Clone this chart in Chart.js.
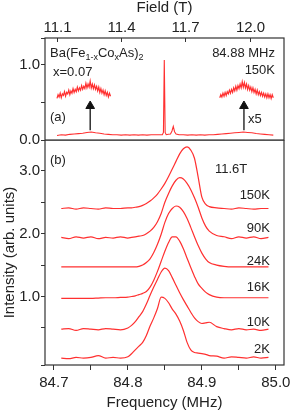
<!DOCTYPE html>
<html>
<head>
<meta charset="utf-8">
<script src="https://cdn.jsdelivr.net/npm/chart.js@4.4.1/dist/chart.umd.min.js"></script>
<style>
    body { margin: 0; background: #fff; width: 291px; height: 411px; overflow: hidden; position: relative;
           font-family: "Liberation Sans", Arial, sans-serif; color: #222; }
    canvas { position: absolute; left: 0; }
    #chartA { top: 0; }
    #chartB { top: 140px; }
    .lbl { position: absolute; font-size: 13px; line-height: 1; white-space: nowrap; }
    .lbl sub { font-size: 9px; vertical-align: -3px; line-height: 0; }
    .r { text-align: right; }
</style>
</head>
<body>
<canvas id="chartA" width="291" height="146" style="width:291px;height:146px"></canvas>
<canvas id="chartB" width="291" height="271" style="width:291px;height:271px"></canvas>

<div class="lbl" style="left:50px;top:46px">Ba(Fe<sub>1-x</sub>Co<sub>x</sub>As)<sub>2</sub></div>
<div class="lbl" style="left:53px;top:65px">x=0.07</div>
<div class="lbl r" style="right:16px;top:46px">84.88 MHz</div>
<div class="lbl r" style="right:16px;top:63px">150K</div>
<div class="lbl" style="left:50px;top:110px">(a)</div>
<div class="lbl" style="left:248px;top:112px">x5</div>
<div class="lbl" style="left:50px;top:153px">(b)</div>
<div class="lbl" style="left:215px;top:162px">11.6T</div>
<div class="lbl r" style="right:21px;top:188px">150K</div>
<div class="lbl r" style="right:21px;top:221px">90K</div>
<div class="lbl r" style="right:21px;top:254px">24K</div>
<div class="lbl r" style="right:21px;top:280px">16K</div>
<div class="lbl r" style="right:21px;top:315px">10K</div>
<div class="lbl r" style="right:21px;top:342px">2K</div>

<script>
// ---- panel (a): field sweep at 84.88 MHz, 150K ----
const fieldT = [11.10, 11.12, 11.14, 11.16, 11.18, 11.20, 11.22, 11.24, 11.26, 11.28, 11.30, 11.32, 11.34,
    11.36, 11.38, 11.40, 11.42, 11.44, 11.46, 11.48, 11.50, 11.52, 11.54, 11.56, 11.58, 11.592, 11.597,
    11.601, 11.605, 11.610, 11.62, 11.630, 11.637, 11.643, 11.649, 11.656, 11.67, 11.69, 11.71, 11.73,
    11.75, 11.77, 11.79, 11.81, 11.83, 11.85, 11.87, 11.89, 11.91, 11.93, 11.95, 11.97, 11.99, 12.01,
    12.03, 12.05, 12.07, 12.09, 12.11];
const sweepSignal = [0.06, 0.07, 0.065, 0.075, 0.08, 0.085, 0.09, 0.10, 0.105, 0.095, 0.09, 0.08, 0.075,
    0.07, 0.07, 0.065, 0.07, 0.065, 0.07, 0.065, 0.07, 0.065, 0.07, 0.07, 0.07, 0.07, 0.10,
    1.06, 0.10, 0.07, 0.075, 0.08, 0.12, 0.18, 0.11, 0.08, 0.07, 0.07, 0.065, 0.07,
    0.065, 0.07, 0.065, 0.07, 0.07, 0.075, 0.08, 0.085, 0.09, 0.095, 0.10, 0.105, 0.10, 0.095,
    0.085, 0.08, 0.075, 0.07, 0.065];

// x5 blow-ups of the two satellite humps
const leftZoomField = [11.100, 11.105, 11.110, 11.115, 11.120, 11.125, 11.130, 11.135, 11.140, 11.145,
    11.150, 11.155, 11.160, 11.165, 11.170, 11.175, 11.180, 11.185, 11.190, 11.195, 11.200, 11.205,
    11.210, 11.215, 11.220, 11.225, 11.230, 11.235, 11.240, 11.245, 11.250, 11.255, 11.260, 11.265,
    11.270, 11.275, 11.280, 11.285, 11.290, 11.295, 11.300, 11.305, 11.310, 11.315, 11.320, 11.325,
    11.330, 11.335, 11.340, 11.345, 11.350];
const leftZoomSignal = [0.55, 0.60, 0.57, 0.62, 0.56, 0.61, 0.59, 0.64, 0.58, 0.63,
    0.61, 0.66, 0.60, 0.65, 0.62, 0.68, 0.63, 0.67, 0.64, 0.70, 0.65, 0.69,
    0.66, 0.72, 0.67, 0.71, 0.68, 0.75, 0.69, 0.74, 0.70, 0.78, 0.69, 0.74,
    0.68, 0.73, 0.67, 0.71, 0.65, 0.70, 0.63, 0.68, 0.62, 0.66, 0.60, 0.65,
    0.59, 0.63, 0.57, 0.62, 0.58];
const rightZoomField = [11.860, 11.865, 11.870, 11.875, 11.880, 11.885, 11.890, 11.895, 11.900, 11.905,
    11.910, 11.915, 11.920, 11.925, 11.930, 11.935, 11.940, 11.945, 11.950, 11.955, 11.960, 11.965,
    11.970, 11.975, 11.980, 11.985, 11.990, 11.995, 12.000, 12.005, 12.010, 12.015, 12.020, 12.025,
    12.030, 12.035, 12.040, 12.045, 12.050, 12.055, 12.060, 12.065, 12.070, 12.075, 12.080, 12.085,
    12.090, 12.095, 12.100, 12.105, 12.110];
const rightZoomSignal = [0.56, 0.60, 0.57, 0.62, 0.58, 0.63, 0.59, 0.64, 0.61, 0.66,
    0.62, 0.67, 0.63, 0.69, 0.65, 0.71, 0.66, 0.72, 0.68, 0.74, 0.69, 0.77,
    0.70, 0.76, 0.69, 0.74, 0.67, 0.72, 0.66, 0.70, 0.64, 0.69, 0.63, 0.67,
    0.61, 0.66, 0.60, 0.64, 0.59, 0.63, 0.58, 0.62, 0.57, 0.61, 0.56, 0.61,
    0.56, 0.60, 0.55, 0.60, 0.56];

const arrowFieldT = [11.255, 11.973];
const arrowFrom = 0.13;
const arrowTo = 0.45;

// ---- panel (b): frequency spectra at 11.6T ----
const freqMHz = [84.71, 84.72, 84.73, 84.74, 84.75, 84.76, 84.77, 84.78, 84.79, 84.80, 84.805, 84.81, 84.815,
    84.82, 84.825, 84.83, 84.835, 84.84, 84.845, 84.85, 84.855, 84.86, 84.865, 84.87, 84.875, 84.88,
    84.885, 84.89, 84.895, 84.90, 84.905, 84.91, 84.92, 84.93, 84.94, 84.95, 84.96, 84.97, 84.98, 84.99];
const temps = ['2K', '10K', '16K', '24K', '90K', '150K'];
const spec2K = [0.02, 0.01, 0.03, 0.02, 0.03, 0.06, 0.02, 0.03, 0.02, 0.04, 0.09, 0.15, 0.21,
    0.27, 0.38, 0.53, 0.66, 0.81, 0.99, 0.97, 0.90, 0.80, 0.72, 0.61, 0.46, 0.27,
    0.15, 0.11, 0.10, 0.09, 0.08, 0.06, 0.05, 0.02, 0.04, 0.03, 0.02, 0.04, 0.02, 0.03];
const spec10K = [0.48, 0.49, 0.46, 0.49, 0.48, 0.47, 0.49, 0.48, 0.47, 0.50, 0.54, 0.60, 0.68,
    0.76, 0.88, 1.02, 1.15, 1.27, 1.39, 1.45, 1.41, 1.30, 1.18, 1.06, 0.95, 0.85,
    0.75, 0.66, 0.60, 0.57, 0.58, 0.59, 0.52, 0.49, 0.47, 0.49, 0.47, 0.48, 0.46, 0.48];
const spec16K = [0.97, 0.97, 0.97, 0.97, 0.97, 0.975, 0.98, 0.98, 0.985, 0.99, 1.00, 1.01, 1.03,
    1.05, 1.08, 1.15, 1.26, 1.40, 1.56, 1.72, 1.86, 1.95, 1.95, 1.88, 1.76, 1.61,
    1.46, 1.32, 1.20, 1.13, 1.07, 1.03, 0.99, 0.98, 0.98, 0.98, 0.98, 0.98, 0.98, 0.98];
const spec24K = [1.47, 1.47, 1.47, 1.47, 1.47, 1.47, 1.47, 1.47, 1.47, 1.47, 1.47, 1.47, 1.48,
    1.50, 1.54, 1.60, 1.70, 1.83, 1.99, 2.18, 2.32, 2.40, 2.44, 2.42, 2.35, 2.24,
    2.10, 1.95, 1.81, 1.69, 1.60, 1.54, 1.50, 1.48, 1.47, 1.47, 1.47, 1.47, 1.47, 1.47];
const spec90K = [1.94, 1.92, 1.95, 1.93, 1.95, 1.92, 1.94, 1.93, 1.95, 1.93, 1.94, 1.95, 1.96,
    1.97, 2.00, 2.04, 2.10, 2.19, 2.32, 2.50, 2.64, 2.76, 2.85, 2.89, 2.87, 2.80,
    2.70, 2.57, 2.42, 2.25, 2.12, 2.04, 1.97, 1.95, 1.92, 1.95, 1.93, 1.95, 1.92, 1.94];
const spec150K = [2.40, 2.41, 2.39, 2.41, 2.40, 2.39, 2.41, 2.40, 2.40, 2.41, 2.41, 2.42, 2.43,
    2.45, 2.48, 2.52, 2.57, 2.63, 2.71, 2.80, 2.91, 3.03, 3.15, 3.27, 3.35, 3.38,
    3.33, 3.20, 2.90, 2.58, 2.47, 2.43, 2.41, 2.40, 2.39, 2.41, 2.40, 2.39, 2.40, 2.40];
const spectra = [spec2K, spec10K, spec16K, spec24K, spec90K, spec150K];

const red = 'rgb(255,48,48)';
const ink = '#222';
const fontFamily = '"Liberation Sans", Arial, sans-serif';

Chart.defaults.font.family = fontFamily;
Chart.defaults.color = ink;
Chart.defaults.animation = false;

const pts = (xs, ys) => xs.map((x, i) => ({ x: x, y: ys[i] }));

// frame around plot area
const boxPlugin = {
    id: 'box',
    afterDraw(chart) {
        const { ctx, chartArea: a } = chart;
        ctx.save();
        ctx.strokeStyle = '#333';
        ctx.lineWidth = 1.2;
        ctx.strokeRect(a.left, a.top, a.right - a.left, a.bottom - a.top);
        ctx.restore();
    }
};

// top axis of panel (a): inward tick marks, labels drawn above the frame
const topAxis = {
    id: 'topAxis',
    afterDraw(chart) {
        const sc = chart.scales.x;
        const { ctx, chartArea: a } = chart;
        ctx.save();
        ctx.strokeStyle = '#333';
        ctx.lineWidth = 1;
        ctx.fillStyle = ink;
        ctx.font = '15px ' + fontFamily;
        ctx.textAlign = 'center';
        ctx.textBaseline = 'middle';
        sc.ticks.forEach(t => {
            const px = Math.round(sc.getPixelForValue(t.value)) + 0.5;
            ctx.beginPath();
            ctx.moveTo(px, a.top);
            ctx.lineTo(px, a.top + 4);
            ctx.stroke();
            ctx.fillText(t.value.toFixed(1), px, a.top - 10);
        });
        ctx.restore();
    }
};

// no extra room for half-labels at the ends of the axes
const noPad = s => { s.paddingTop = 0; s.paddingBottom = 0; s.paddingLeft = 0; s.paddingRight = 0; };

const tickFont = { size: 15, family: fontFamily };
const axisGrid = { drawOnChartArea: false, tickLength: 4, color: '#333', lineWidth: 1 };

// Panel (a)
const arrowSets = arrowFieldT.map(f => ({
    data: [{ x: f, y: arrowFrom }, { x: f, y: arrowTo }],
    borderColor: '#111',
    borderWidth: 1.3,
    backgroundColor: '#111',
    pointStyle: 'triangle',
    pointRadius: [0, 5],
    pointBorderWidth: 1,
    tension: 0
}));

new Chart(document.getElementById('chartA'), {
    type: 'line',
    data: {
        datasets: [
            { data: pts(fieldT, sweepSignal), borderColor: red, borderWidth: 1.1, pointRadius: 0, tension: 0 },
            { data: pts(leftZoomField, leftZoomSignal), borderColor: red, borderWidth: 1.2, pointRadius: 0, tension: 0 },
            { data: pts(rightZoomField, rightZoomSignal), borderColor: red, borderWidth: 1.2, pointRadius: 0, tension: 0 },
            ...arrowSets
        ]
    },
    options: {
        responsive: false,
        plugins: { legend: { display: false }, tooltip: { enabled: false } },
        layout: { padding: { left: 0, right: 7, top: 0, bottom: 2 } },
        scales: {
            x: {
                type: 'linear', position: 'top', min: 11.044, max: 12.16,
                border: { display: false },
                grid: { drawOnChartArea: false, drawTicks: false, tickLength: 0 },
                ticks: { display: false, stepSize: 0.3, includeBounds: false },
                title: { display: true, text: 'Field (T)', font: { size: 15, lineHeight: 1 }, padding: { top: 0, bottom: 0 } },
                afterFit: s => { s.height = 38; noPad(s); }
            },
            y: {
                min: 0, max: 1.35,
                border: { display: false },
                grid: axisGrid,
                ticks: { stepSize: 0.5, padding: 1, font: tickFont,
                         callback: v => Number.isInteger(v) ? v.toFixed(1) : '' },
                afterFit: s => { s.width = 45; noPad(s); }
            }
        }
    },
    plugins: [boxPlugin, topAxis]
});

// Panel (b)
new Chart(document.getElementById('chartB'), {
    type: 'line',
    data: {
        datasets: spectra.map((s, i) => ({
            label: temps[i],
            data: pts(freqMHz, s),
            borderColor: red,
            borderWidth: 1.2,
            pointRadius: 0,
            cubicInterpolationMode: 'monotone'
        }))
    },
    options: {
        responsive: false,
        plugins: { legend: { display: false }, tooltip: { enabled: false } },
        layout: { padding: { left: 0, right: 7, top: 0, bottom: 0 } },
        scales: {
            x: {
                type: 'linear', position: 'bottom', min: 84.688, max: 85.011,
                border: { display: false },
                grid: { drawOnChartArea: false, tickLength: 5, color: '#333' },
                ticks: { stepSize: 0.05, includeBounds: false, maxRotation: 0, padding: 4, font: tickFont,
                         autoSkip: false,
                         callback: v => Math.round(v * 100) % 10 === 0 ? v.toFixed(1) : '' },
                title: { display: true, text: 'Frequency (MHz)', font: { size: 15, lineHeight: 1 }, padding: { top: 0, bottom: 1 } },
                afterFit: s => { s.height = 46; noPad(s); }
            },
            y: {
                min: -0.09, max: 3.49,
                border: { display: false },
                grid: axisGrid,
                ticks: { stepSize: 0.5, padding: 1, font: tickFont,
                         callback: v => Number.isInteger(v) ? v.toFixed(1) : '' },
                title: { display: true, text: 'Intensity (arb. units)', font: { size: 15, lineHeight: 1 }, padding: { top: 2, bottom: 0 } },
                afterFit: s => { s.width = 45; noPad(s); }
            }
        }
    },
    plugins: [boxPlugin]
});
</script>
</body>
</html>
